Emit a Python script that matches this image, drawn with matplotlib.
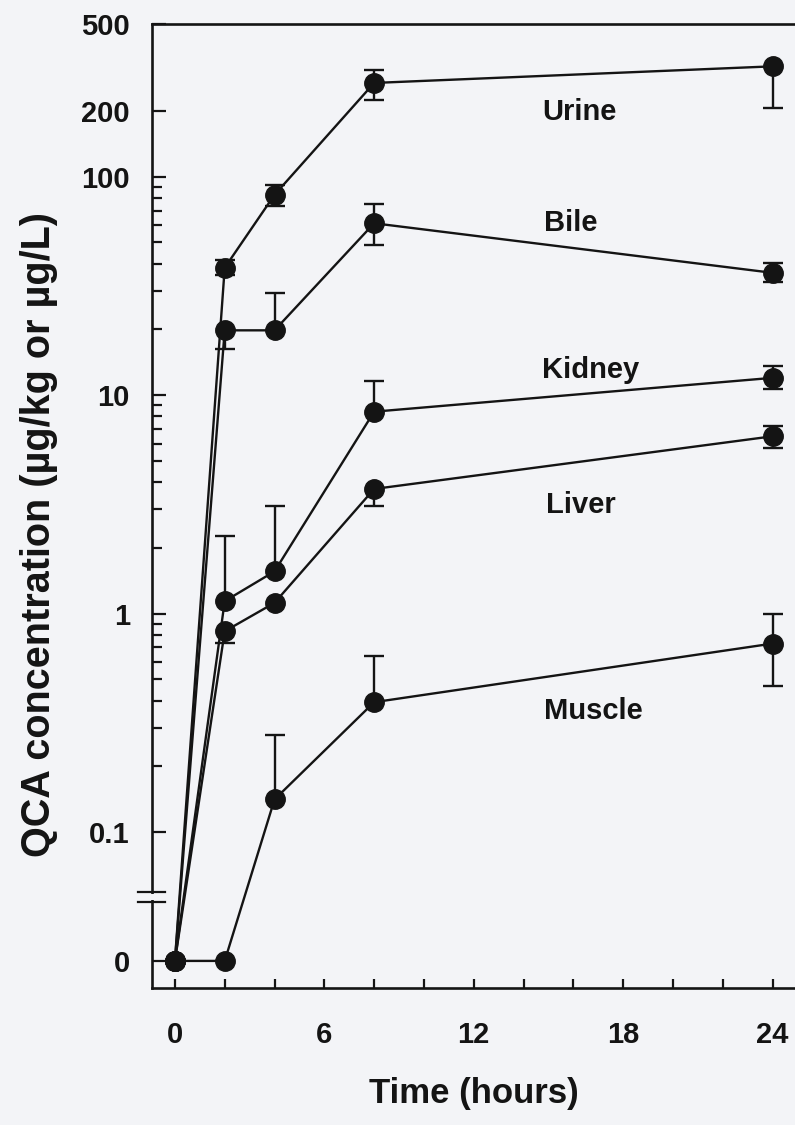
import numpy as np
import matplotlib
matplotlib.use("Agg")
import matplotlib.pyplot as plt
from matplotlib.ticker import FixedLocator, FixedFormatter

nan = np.nan

# ---------------- data ----------------
hours = [0, 2, 4, 8, 24]

urine    = [0, 38.3, 82.6, 268.6, 320.0]
urine_hi = [nan, 41.7, 91.9, 306.8, nan]
urine_lo = [nan, 35.6, 73.1, 224.8, 206.0]

bile     = [0, 19.8, 19.8, 61.2, 36.3]
bile_hi  = [nan, nan, 29.5, 75.0, 40.3]
bile_lo  = [nan, 16.3, nan, 48.5, 32.8]

kidney    = [0, 1.14, 1.56, 8.4, 12.0]
kidney_hi = [nan, 2.26, 3.12, 11.6, 13.55]
kidney_lo = [nan, nan, nan, nan, 10.67]

liver    = [0, 0.83, 1.12, 3.72, 6.48]
liver_hi = [nan, nan, nan, nan, 7.2]
liver_lo = [nan, 0.73, nan, 3.12, 5.73]

muscle    = [0, 0, 0.141, 0.393, 0.729]
muscle_hi = [nan, nan, 0.277, 0.638, 1.0]
muscle_lo = [nan, nan, nan, nan, 0.465]

series_names = ["Urine", "Bile", "Kidney", "Liver", "Muscle"]

y_major = [0, 0.1, 1, 10, 100, 200, 500]
y_major_labels = ["0", "0.1", "1", "10", "100", "200", "500"]
y_minor = [0.2, 0.3, 0.4, 0.5, 0.6, 0.7, 0.8, 0.9,
           2, 3, 4, 5, 6, 7, 8, 9,
           20, 30, 40, 50, 60, 70, 80, 90]
x_major = [0, 6, 12, 18, 24]
x_minor = [2, 4, 8, 10, 14, 16, 20, 22]

# ---------------- style ----------------
FONT = ["Liberation Sans", "DejaVu Sans"]
plt.rcParams["font.family"] = FONT
plt.rcParams["font.weight"] = "bold"
BG = "#f3f4f7"
INK = "#141414"

ZERO_POS = -1.59  # log-position where the value 0 is drawn (below axis break)


def fwd(v):
    v = np.asarray(v, dtype=float)
    with np.errstate(divide="ignore", invalid="ignore"):
        out = np.where(v > 0, np.log10(np.where(v > 0, v, 1.0)), ZERO_POS)
    out = np.where(np.isnan(v), np.nan, out)
    return out


def inv(u):
    return np.power(10.0, np.asarray(u, dtype=float))


fig = plt.figure(figsize=(7.95, 11.25), dpi=100, facecolor=BG)
ax = fig.add_axes([152 / 795, 1 - 988 / 1125, 1 - 152 / 795, (988 - 24) / 1125])
ax.set_facecolor(BG)
ax.set_yscale("function", functions=(fwd, inv))

data = [
    (urine, urine_lo, urine_hi),
    (bile, bile_lo, bile_hi),
    (kidney, kidney_lo, kidney_hi),
    (liver, liver_lo, liver_hi),
    (muscle, muscle_lo, muscle_hi),
]

LW = 1.7
CAP_MS = 15  # cap width in points (marker '_')

for mean, lo, hi in data:
    x = np.array(hours, float)
    m = np.array(mean, float)
    for ends in (np.array(lo, float), np.array(hi, float)):
        ok = ~np.isnan(ends)
        if ok.any():
            ax.vlines(x[ok], m[ok], ends[ok], color=INK, lw=LW, zorder=2,
                      clip_on=False)
            ax.plot(x[ok], ends[ok], linestyle="none", marker="_",
                    markersize=CAP_MS, markeredgewidth=LW, color=INK,
                    zorder=2, clip_on=False)
    ax.plot(x, m, color=INK, lw=LW, marker="o", markersize=14,
            markerfacecolor=INK, markeredgecolor=INK, zorder=3, clip_on=False)

# series labels
label_pos = {"Urine": (16.25, 198), "Bile": (15.9, 61.5), "Kidney": (16.7, 13.1),
             "Liver": (16.3, 3.15), "Muscle": (16.8, 0.36)}
for name in series_names:
    tx, ty = label_pos[name]
    ax.text(tx, ty, name, fontsize=21, fontweight="bold", color=INK,
            ha="center", va="center")

ax.set_xlim(-0.92, 24.9)
ax.set_ylim(inv(-1.714), 500)

ax.xaxis.set_major_locator(FixedLocator(x_major))
ax.xaxis.set_minor_locator(FixedLocator(x_minor))
ax.yaxis.set_major_locator(FixedLocator(y_major))
ax.yaxis.set_major_formatter(FixedFormatter(y_major_labels))
ax.yaxis.set_minor_locator(FixedLocator(y_minor))
ax.yaxis.set_minor_formatter(FixedFormatter([""] * len(y_minor)))

ax.tick_params(axis="y", which="major", direction="in", length=10, width=1.6,
               pad=16, labelsize=21, colors=INK)
ax.tick_params(axis="y", which="minor", direction="in", length=7.5, width=1.6,
               colors=INK)
ax.tick_params(axis="x", which="both", direction="in", length=6.5, width=1.6,
               pad=24, labelsize=21, colors=INK)
for lab in ax.get_xticklabels() + ax.get_yticklabels():
    lab.set_fontweight("bold")

for side in ["left", "bottom", "top"]:
    ax.spines[side].set_linewidth(1.9)
    ax.spines[side].set_color(INK)
ax.spines["right"].set_visible(False)

# axis break on y-axis
yb1, yb2 = (988 - 902) / 964, (988 - 892) / 964
ax.plot([0, 0], [yb1 + 0.002, yb2 - 0.002], transform=ax.transAxes, color=BG,
        lw=4, zorder=5, clip_on=False, solid_capstyle="butt")
for yb in (yb1, yb2):
    ax.plot([-0.022, 0.02], [yb, yb], transform=ax.transAxes, color=INK,
            lw=1.6, zorder=6, clip_on=False)

ax.set_xlabel("Time (hours)", fontsize=25, fontweight="bold", color=INK)
ax.xaxis.set_label_coords(0.5, -0.0923)
ax.xaxis.label.set_va("top")
ax.set_ylabel("QCA concentration (µg/kg or µg/L)", fontsize=28.5,
              fontweight="bold", color=INK)
ax.yaxis.set_label_coords(-0.146, 0.47)

fig.savefig("out.png", dpi=100, facecolor=BG)
